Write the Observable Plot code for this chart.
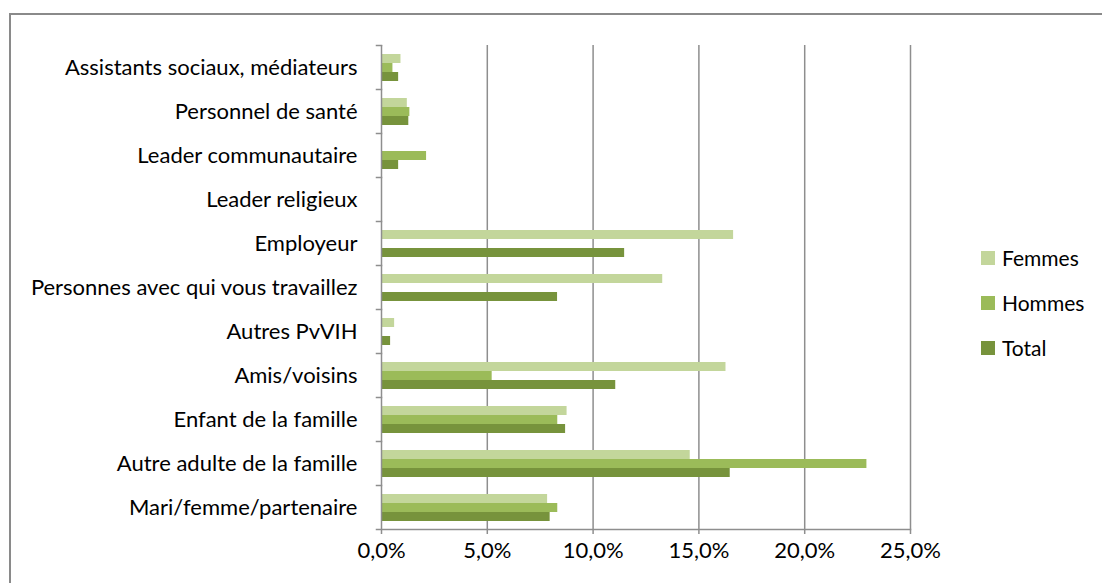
<!DOCTYPE html>
<html>
<head>
<meta charset="utf-8">
<script src="https://cdn.jsdelivr.net/npm/d3@7"></script>
<script src="https://cdn.jsdelivr.net/npm/@observablehq/plot@0.6"></script>
<style>
  html, body { margin: 0; padding: 0; background: #fff; overflow: hidden; }
  #wrap { position: relative; width: 1102px; height: 583px; }
  #border { position: absolute; left: 9px; top: 13px; width: 1200px; height: 700px;
            border: 2px solid #8a8a8a; box-sizing: border-box; }
  #chart { position: absolute; left: 0; top: 0; }
  #legend { position: absolute; left: 981px; top: 235px; font-family: Lato, sans-serif;
            font-size: 21px; color: #000; }
  .item { display: flex; align-items: center; height: 45px; }
  .sw { width: 14px; height: 14px; margin-right: 7px; }
</style>
</head>
<body>
<div id="wrap">
  <div id="border"></div>
  <div id="chart"></div>
  <div id="legend"></div>
</div>
<script>
// Categories, top to bottom
const categories = [
  "Assistants sociaux, médiateurs",
  "Personnel de santé",
  "Leader communautaire",
  "Leader religieux",
  "Employeur",
  "Personnes avec qui vous travaillez",
  "Autres PvVIH",
  "Amis/voisins",
  "Enfant de la famille",
  "Autre adulte de la famille",
  "Mari/femme/partenaire"
];

// Percentages per series, same order as categories
const femmes = [0.92, 1.22, 0, 0, 16.64, 13.29, 0.62, 16.28, 8.77, 14.59, 7.85];
const hommes = [0.54, 1.34, 2.13, 0, 0, 0, 0, 5.23, 8.33, 22.94, 8.33];
const total  = [0.81, 1.29, 0.81, 0, 11.49, 8.32, 0.43, 11.07, 8.70, 16.48, 7.97];

const series = ["Femmes", "Hommes", "Total"];
const colors = ["#c3d69b", "#9bbb59", "#77933c"];
const xTicks = [0, 5, 10, 15, 20, 25];

const seriesValues = [femmes, hommes, total];
const rows = categories.flatMap((c, i) =>
  series.map((s, j) => ({category: c, series: s, value: seriesValues[j][i]}))
);

const fmt = d => d.toFixed(1).replace(".", ",") + "%";
const grey = "#8e8e8e";

const chart = Plot.plot({
  width: 1102,
  height: 583,
  marginLeft: 381,
  marginRight: 192,
  marginTop: 43,
  marginBottom: 52,
  style: {fontFamily: "Lato, sans-serif", fontSize: "22px", color: "#000", background: "transparent"},
  x: {domain: [0, 25]},
  fy: {domain: categories, padding: 0, label: null},
  y: {domain: series, paddingInner: 0, paddingOuter: 0.72, axis: null},
  color: {domain: series, range: colors},
  marks: [
    // vertical gridlines
    Plot.ruleX(xTicks.slice(1), {stroke: grey, strokeWidth: 1.5}),
    Plot.barX(rows, {x: "value", y: "series", fy: "category", fill: "series"}),
    // value axis baseline and category separators
    Plot.ruleX([0], {stroke: grey, strokeWidth: 1.5}),
    Plot.frame({anchor: "top", insetLeft: -5, insetRight: 529, stroke: grey, strokeWidth: 1.5}),
    Plot.frame({anchor: "bottom", insetLeft: -5, fy: [categories[categories.length - 1]], stroke: grey, strokeWidth: 1.5}),
    Plot.axisFy({anchor: "left", tickSize: 0, tickPadding: 24, label: null, fill: "#000"}),
    Plot.axisX({ticks: xTicks, tickSize: 5, tickPadding: 8, tickFormat: fmt, label: null,
                stroke: grey, strokeWidth: 1.5, fill: "#000"})
  ]
});
document.getElementById("chart").appendChild(chart);

const legend = document.getElementById("legend");
series.forEach((s, j) => {
  const item = document.createElement("div");
  item.className = "item";
  const sw = document.createElement("div");
  sw.className = "sw";
  sw.style.background = colors[j];
  const label = document.createElement("span");
  label.textContent = s;
  item.appendChild(sw);
  item.appendChild(label);
  legend.appendChild(item);
});
</script>
</body>
</html>
